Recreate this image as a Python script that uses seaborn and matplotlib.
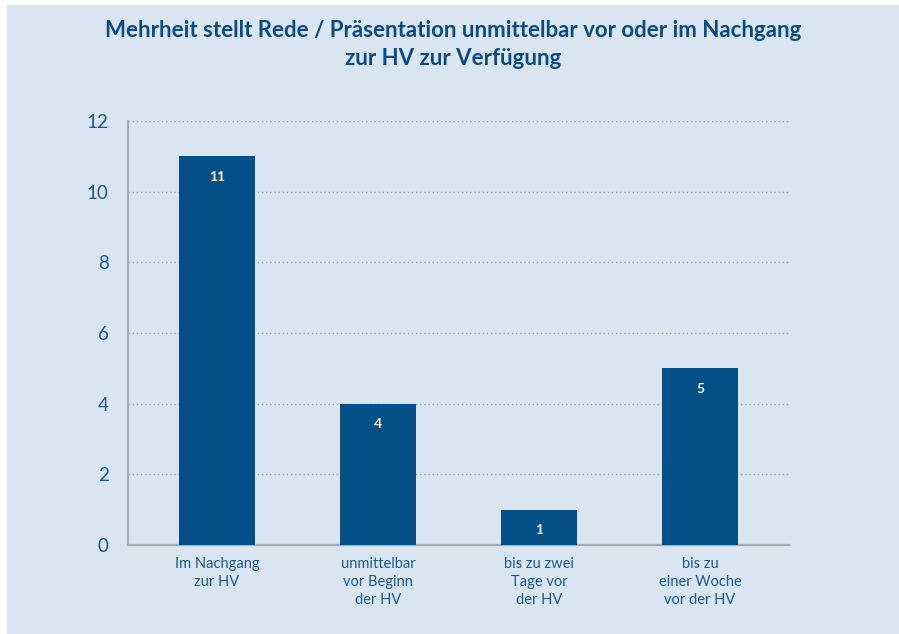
import seaborn as sns
import pandas as pd
import numpy as np
import matplotlib.pyplot as plt
from matplotlib.patches import Rectangle

categories = ["Im Nachgang\nzur HV", "unmittelbar\nvor Beginn\nder HV",
              "bis zu zwei\nTage vor\nder HV", "bis zu\neiner Woche\nvor der HV"]
counts = [11, 4, 1, 5]
yticks = [0, 2, 4, 6, 8, 10, 12]
title = "Mehrheit stellt Rede / Präsentation unmittelbar vor oder im Nachgang\nzur HV zur Verfügung"

bg = "#d9e6f2"
bar_col = "#034f87"
txt_col = "#1b5a92"

sns.set_style("white")
plt.rcParams['font.family'] = ['Lato', 'DejaVu Sans']

df = pd.DataFrame({"Zeitpunkt": categories, "Anzahl": counts})

fig = plt.figure(figsize=(8.99, 6.34), dpi=100)
fig.patch.set_facecolor("white")
fig.add_artist(Rectangle((7 / 899, -0.01), 1.1, 1.01 - 5 / 634, transform=fig.transFigure,
                         facecolor=bg, edgecolor="none", zorder=0))
ax = fig.add_axes([0.1424, 0.1404, 0.7353, 0.6688])
ax.set_facecolor(bg)

sns.barplot(data=df, x="Zeitpunkt", y="Anzahl", color=bar_col, width=0.47,
            saturation=1, linewidth=0, ax=ax, zorder=3)

for i, v in enumerate(counts):
    ax.annotate(str(v), (i, v), xytext=(0, -15), textcoords="offset points",
                ha="center", va="center", color="white", fontsize=10,
                fontweight="bold")

ax.set_xlim(-0.553, 3.553)
ax.set_ylim(0, 12)
ax.set_yticks(yticks)
ax.yaxis.grid(True, linestyle=(0, (1, 2)), color="#9aa5b0", linewidth=1, zorder=0)
ax.tick_params(axis="y", length=0, pad=14, labelsize=13.5, labelcolor=txt_col)
ax.tick_params(axis="x", length=0, pad=9, labelsize=10.5, labelcolor=txt_col)
ax.set_xlabel("")
ax.set_ylabel("")
for lbl in ax.get_xticklabels():
    lbl.set_linespacing(1.35)

for s in ["top", "right"]:
    ax.spines[s].set_visible(False)
for s in ["left", "bottom"]:
    ax.spines[s].set_color("#a3abb3")
    ax.spines[s].set_linewidth(1.6)

fig.text(0.504, 0.969, title, ha="center", va="top", fontsize=16,
         fontweight="bold", color="#0b4a82", linespacing=1.45)

plt.savefig("out.png", dpi=100, facecolor=fig.get_facecolor())
